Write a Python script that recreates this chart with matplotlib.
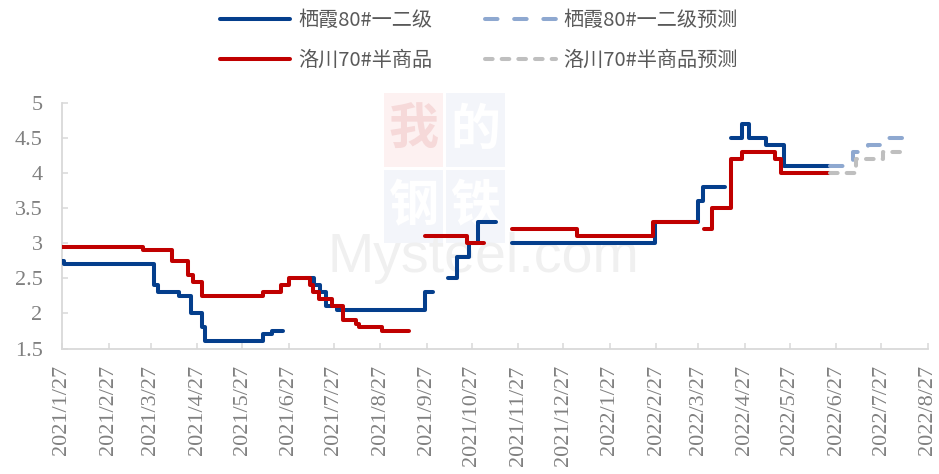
import numpy as np
import pandas as pd
import matplotlib
matplotlib.use("Agg")
import matplotlib.pyplot as plt
from matplotlib.lines import Line2D
from matplotlib.patches import Rectangle
from matplotlib.font_manager import FontProperties

nan = np.nan

# ---------------- data ----------------
blue_dates = ["2021-01-27", "2021-01-28", "2021-03-29", "2021-04-01", "2021-04-15",
              "2021-04-23", "2021-04-30", "2021-05-02", "2021-06-10", "2021-06-16",
              "2021-06-23", "2021-06-23",
              "2021-07-08", "2021-07-14", "2021-07-18", "2021-07-22", "2021-07-29",
              "2021-09-26", "2021-10-01", "2021-10-01",
              "2021-10-11", "2021-10-17", "2021-10-25", "2021-10-31", "2021-11-12",
              "2021-11-12",
              "2021-11-23", "2022-02-26", "2022-03-27", "2022-03-30", "2022-04-14",
              "2022-04-14",
              "2022-04-18", "2022-04-25", "2022-04-30", "2022-05-11", "2022-05-23",
              "2022-06-23"]
blue_values = [2.75, 2.70, 2.40, 2.30, 2.25,
               2.00, 1.80, 1.60, 1.70, 1.75,
               1.75, nan,
               2.50, 2.40, 2.30, 2.10, 2.05,
               2.30, 2.30, nan,
               2.50, 2.80, 3.00, 3.30, 3.30,
               nan,
               3.00, 3.30, 3.60, 3.80, 3.80,
               nan,
               4.50, 4.70, 4.50, 4.40, 4.10,
               4.10]

red_dates = ["2021-01-27", "2021-03-22", "2021-04-10", "2021-04-21", "2021-04-24",
             "2021-04-30", "2021-06-10", "2021-06-22", "2021-06-27", "2021-07-11",
             "2021-07-13", "2021-07-17", "2021-07-26", "2021-08-02", "2021-08-11",
             "2021-08-13", "2021-08-28", "2021-09-15", "2021-09-15",
             "2021-09-26", "2021-10-24", "2021-11-04", "2021-11-04",
             "2021-11-23", "2022-01-05", "2022-02-25", "2022-03-26", "2022-03-26",
             "2022-03-31", "2022-04-05", "2022-04-18", "2022-04-25", "2022-05-17",
             "2022-05-21", "2022-06-23"]
red_values = [2.95, 2.90, 2.75, 2.55, 2.45,
              2.25, 2.30, 2.40, 2.50, 2.40,
              2.30, 2.20, 2.10, 1.90, 1.85,
              1.80, 1.75, 1.75, nan,
              3.10, 3.00, 3.00, nan,
              3.20, 3.10, 3.30, 3.30, nan,
              3.20, 3.50, 4.20, 4.30, 4.20,
              4.00, 4.00]

blue_fc_dates = ["2022-06-23", "2022-07-08", "2022-07-18", "2022-08-01", "2022-08-12"]
blue_fc_values = [4.10, 4.30, 4.40, 4.50, 4.50]

red_fc_dates = ["2022-06-23", "2022-07-10", "2022-07-28", "2022-08-12"]
red_fc_values = [4.00, 4.20, 4.30, 4.30]

series_names = ["栖霞80#一二级", "洛川70#半商品", "栖霞80#一二级预测", "洛川70#半商品预测"]

tick_dates = ["2021-01-27", "2021-02-27", "2021-03-27", "2021-04-27", "2021-05-27",
              "2021-06-27", "2021-07-27", "2021-08-27", "2021-09-27", "2021-10-27",
              "2021-11-27", "2021-12-27", "2022-01-27", "2022-02-27", "2022-03-27",
              "2022-04-27", "2022-05-27", "2022-06-27", "2022-07-27", "2022-08-27"]
tick_labels = ["2021/1/27", "2021/2/27", "2021/3/27", "2021/4/27", "2021/5/27",
               "2021/6/27", "2021/7/27", "2021/8/27", "2021/9/27", "2021/10/27",
               "2021/11/27", "2021/12/27", "2022/1/27", "2022/2/27", "2022/3/27",
               "2022/4/27", "2022/5/27", "2022/6/27", "2022/7/27", "2022/8/27"]
y_ticks = [1.5, 2, 2.5, 3, 3.5, 4, 4.5, 5]
y_labels = ["1.5", "2", "2.5", "3", "3.5", "4", "4.5", "5"]

# ---------------- style ----------------
plt.rcParams['lines.scale_dashes'] = False
BLUE = "#043E8C"
RED = "#C00000"
LBLUE = "#8EA8D0"
GREY = "#BFBFBF"
LW = 2.9

W, H = 939, 474
fig = plt.figure(figsize=(W / 100, H / 100), dpi=100)
fig.patch.set_facecolor("white")


def fx(x):
    return x / W


def fy(y):
    return 1 - y / H


ax = fig.add_axes([fx(62), fy(348.5), fx(928) - fx(62), fy(102.7) - fy(348.5)])
ax.patch.set_visible(False)

# ---------------- watermark ----------------
cjk = ['Noto Sans CJK SC', 'DejaVu Sans']
boxes = [(384, 93, 443, 167, "#FDF1F1", "#F6D9D9", "我"),
         (446, 93, 505, 167, "#F3F5FA", "#FFFFFF", "的"),
         (384, 170, 443, 243, "#F3F5FA", "#FFFFFF", "钢"),
         (446, 170, 505, 243, "#F3F5FA", "#FFFFFF", "铁")]
for x0, y0, x1, y1, bg, fg, ch in boxes:
    fig.patches.append(Rectangle((fx(x0), fy(y1)), fx(x1) - fx(x0), fy(y0) - fy(y1),
                                 transform=fig.transFigure, facecolor=bg,
                                 edgecolor="none", zorder=-2))
    fig.text(fx((x0 + x1) / 2), fy((y0 + y1) / 2), ch, family=cjk, fontsize=36,
             fontweight="bold", color=fg, ha="center", va="center", zorder=-1)
fig.text(fx(483), fy(258), "Mysteel.com", family=["Liberation Sans", "DejaVu Sans"],
         fontsize=40, color="#F0F0F0", ha="center", va="center", zorder=-1)

# ---------------- lines ----------------
ax.plot(pd.to_datetime(blue_dates), blue_values, drawstyle="steps-post", color=BLUE,
        lw=LW, solid_capstyle="round", solid_joinstyle="round", zorder=3)
ax.plot(pd.to_datetime(red_dates), red_values, drawstyle="steps-post", color=RED,
        lw=LW, solid_capstyle="round", solid_joinstyle="round", zorder=4)
ax.plot(pd.to_datetime(blue_fc_dates), blue_fc_values, drawstyle="steps-post",
        color=LBLUE, lw=LW, linestyle=(0, (9, 12)), dash_capstyle="round", zorder=5)
ax.plot(pd.to_datetime(red_fc_dates), red_fc_values, drawstyle="steps-post",
        color=GREY, lw=LW, linestyle=(0, (5.5, 6.5)), dash_capstyle="round", zorder=5)

# ---------------- axes ----------------
ax.set_xlim(pd.Timestamp(tick_dates[0]), pd.Timestamp(tick_dates[-1]))
ax.set_ylim(1.5, 5)
ax.set_yticks(y_ticks)
ax.set_yticklabels(y_labels)
ax.set_xticks(pd.to_datetime(tick_dates))
ax.set_xticklabels(tick_labels, rotation=90)

for s in ["top", "right"]:
    ax.spines[s].set_visible(False)
for s in ["left", "bottom"]:
    ax.spines[s].set_color("#D9D9D9")
    ax.spines[s].set_linewidth(1.3)

serif = ["Liberation Serif", "DejaVu Serif"]
ax.tick_params(axis="both", direction="in", length=4.5, width=1.1, color="#D9D9D9",
               labelcolor="#808080", labelsize=16)
ax.tick_params(axis="y", pad=14)
ax.tick_params(axis="x", pad=12)
for lab in ax.get_xticklabels() + ax.get_yticklabels():
    lab.set_family(serif)

# ---------------- legend ----------------
handles = [Line2D([], [], color=BLUE, lw=LW, solid_capstyle="round"),
           Line2D([], [], color=RED, lw=LW, solid_capstyle="round"),
           Line2D([], [], color=LBLUE, lw=LW, linestyle=(0, (9, 12)), dash_capstyle="round"),
           Line2D([], [], color=GREY, lw=LW, linestyle=(0, (5.5, 6.5)), dash_capstyle="round")]
fig.legend(handles, series_names, ncol=2, loc="upper left",
           bbox_to_anchor=(fx(220), fy(10)), frameon=False, borderpad=0,
           borderaxespad=0, prop=FontProperties(family=cjk, size=14.5),
           handlelength=3.5, handletextpad=0.4, columnspacing=2.6,
           labelspacing=0.95, labelcolor="#595959")

fig.savefig("out.png", dpi=100, facecolor="white")
